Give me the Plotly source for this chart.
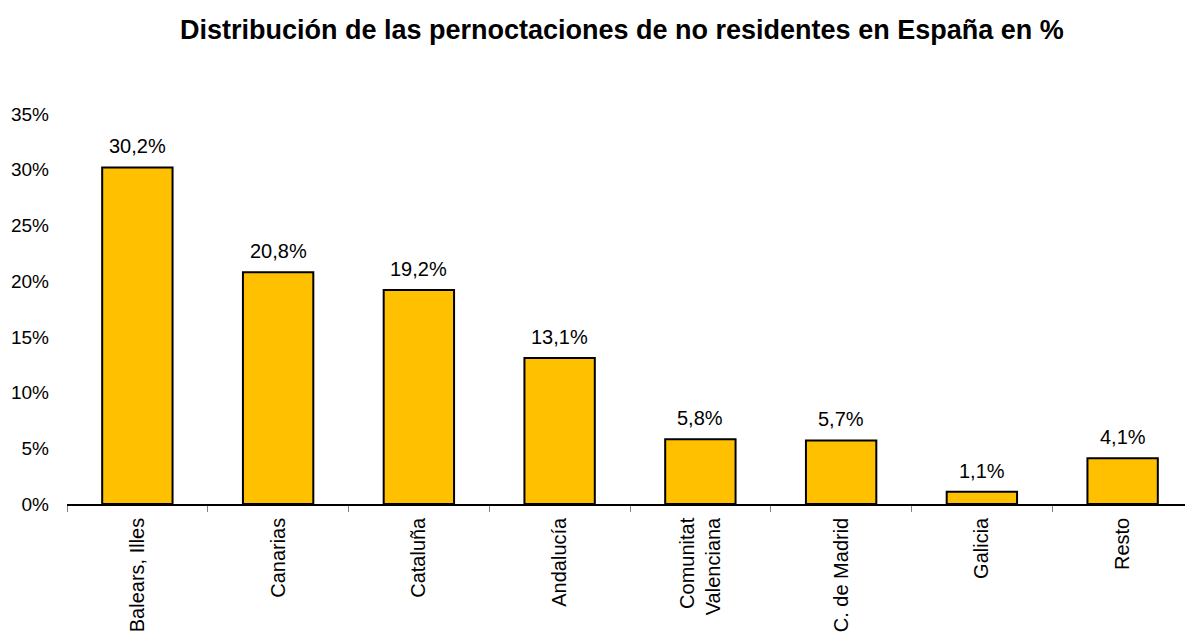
import plotly.graph_objects as go

categories = ["Balears, Illes", "Canarias", "Cataluña", "Andalucía",
              "Comunitat<br>Valenciana", "C. de Madrid", "Galicia", "Resto"]
values = [0.302, 0.208, 0.192, 0.131, 0.058, 0.057, 0.011, 0.041]
y_ticks = [0, 0.05, 0.10, 0.15, 0.20, 0.25, 0.30, 0.35]

FONT = "Liberation Sans, Arial, sans-serif"

fig = go.Figure()
fig.add_trace(go.Bar(
    x=categories, y=values, width=0.5,
    marker=dict(color="#FFC000", line=dict(color="black", width=2)),
    hoverinfo="skip",
))

for c, v in zip(categories, values):
    fig.add_annotation(x=c, y=v, text=f"{v*100:.1f}%".replace(".", ","),
                       showarrow=False, yanchor="bottom", yshift=8,
                       font=dict(size=20, color="black", family=FONT))

fig.update_layout(
    width=1185, height=627,
    margin=dict(l=59, r=0, t=106, b=131),
    paper_bgcolor="white", plot_bgcolor="white",
    separators=",.",
    showlegend=False,
    font=dict(family=FONT, size=20, color="black"),
    title=dict(text="<b>Distribución de las pernoctaciones de no residentes en España en %</b>",
               x=0.518, xanchor="center", xref="container",
               y=1 - 22 / 627, yanchor="middle", yref="container",
               font=dict(size=27, family=FONT, color="black")),
)
fig.update_xaxes(
    showline=True, linecolor="black", linewidth=1.5,
    ticks="outside", tickson="boundaries", ticklen=6, tickcolor="#808080",
    tickangle=-90, tickfont=dict(size=20, family=FONT),
    ticklabelstandoff=4,
    showgrid=False,
)
fig.update_yaxes(
    range=[0, 0.35], tickvals=y_ticks, tickformat=".0%",
    showline=False, showgrid=False, zeroline=False,
    ticks="", ticklabelstandoff=17,
    tickfont=dict(size=19, family=FONT),
)

fig.write_html("out.html")
